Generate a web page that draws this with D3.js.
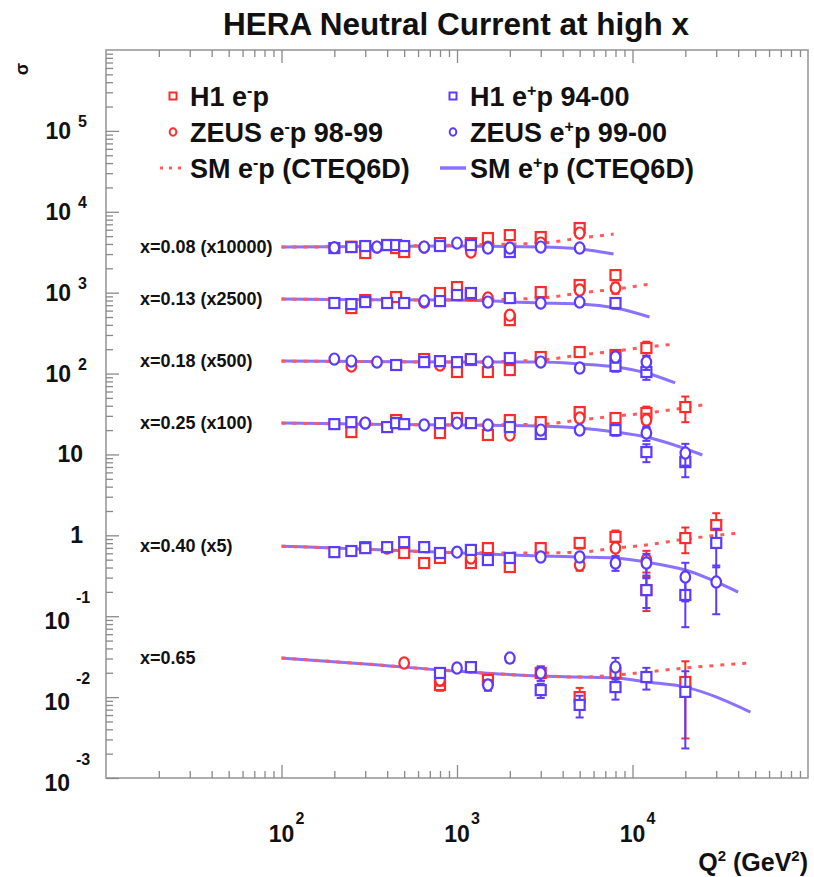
<!DOCTYPE html>
<html><head><meta charset="utf-8">
<script src="https://cdn.jsdelivr.net/npm/d3@7"></script>
<style>
body{margin:0;background:#fff}
svg{display:block}
text{font-family:"Liberation Sans",Arial,Helvetica,sans-serif;font-weight:bold;fill:#111}
</style>
</head><body><svg id="c" width="814" height="877"></svg>
<script>
// ---------------- data ----------------
const binLabels = ["x=0.08 (x10000)","x=0.13 (x2500)","x=0.18 (x500)","x=0.25 (x100)","x=0.40 (x5)","x=0.65"];
const binScale  = [10000, 2500, 500, 100, 5, 1];

// Standard Model curves (reduced cross section, unscaled) at Q2 knots
const smQ2 = [
  [100,300,1000,3000,5000,7800],
  [100,300,1000,3000,5000,8000,12500],
  [100,300,1000,3000,5000,8000,12000,17500],
  [100,300,1000,3000,5000,8000,12000,25000],
  [100,300,1000,3000,5000,8000,12000,20000,40000],
  [100,300,1000,3000,5000,8000,12000,20000,47000]
];
const smEm = [
  [0.366,0.372,0.388,0.410,0.473,0.530],
  [0.333,0.328,0.324,0.343,0.396,0.443,0.511],
  [0.285,0.281,0.277,0.294,0.339,0.379,0.425,0.463],
  [0.244,0.237,0.231,0.237,0.266,0.298,0.325,0.408],
  [0.147,0.135,0.122,0.121,0.124,0.139,0.152,0.180,0.213],
  [0.0304,0.0257,0.0209,0.0182,0.0177,0.0187,0.0204,0.0229,0.0264]
];
const smEp = [
  [0.366,0.372,0.377,0.366,0.346,0.300],
  [0.333,0.328,0.324,0.298,0.289,0.258,0.200],
  [0.285,0.281,0.277,0.277,0.262,0.241,0.203,0.153],
  [0.244,0.237,0.231,0.225,0.212,0.189,0.164,0.0984],
  [0.147,0.135,0.122,0.111,0.108,0.105,0.0935,0.0745,0.0398],
  [0.0304,0.0257,0.0209,0.0182,0.0177,0.0172,0.0154,0.0133,0.00654]
];

// measurements: [bin, Q2, sigma_r, relative error]
const h1Em = [
  [0,250,0.370,0.04],[0,300,0.309,0.04],[0,400,0.388,0.04],[0,450,0.356,0.04],[0,500,0.318,0.04],[0,800,0.410,0.05],[0,1200,0.410,0.05],[0,1500,0.473,0.06],[0,2000,0.515,0.07],[0,3000,0.487,0.08],[0,5000,0.629,0.10],
  [1,250,0.258,0.04],[1,300,0.324,0.04],[1,450,0.353,0.04],[1,800,0.396,0.05],[1,1000,0.469,0.05],[1,1200,0.374,0.05],[1,2000,0.183,0.08],[1,3000,0.407,0.08],[1,5000,0.497,0.10],[1,8000,0.660,0.14],
  [2,650,0.302,0.05],[2,1000,0.209,0.05],[2,1200,0.294,0.06],[2,1500,0.209,0.06],[2,2000,0.221,0.08],[2,3000,0.320,0.08],[2,5000,0.369,0.10],[2,8000,0.339,0.14],[2,12000,0.413,0.20],
  [3,250,0.189,0.04],[3,450,0.266,0.04],[3,800,0.184,0.05],[3,1000,0.282,0.05],[3,1500,0.174,0.06],[3,2000,0.266,0.08],[3,3000,0.251,0.08],[3,5000,0.334,0.10],[3,8000,0.282,0.15],[3,12000,0.325,0.20],[3,20000,0.385,0.35],
  [4,300,0.143,0.05],[4,500,0.121,0.05],[4,650,0.0909,0.08],[4,800,0.105,0.06],[4,1200,0.0909,0.08],[4,1500,0.139,0.08],[4,2000,0.0811,0.10],[4,3000,0.139,0.10],[4,5000,0.161,0.15],[4,8000,0.191,0.20],[4,12000,0.0421,0.45],[4,20000,0.185,0.35],[4,30000,0.268,0.40],
  [5,800,0.0141,0.15],[5,1500,0.0163,0.15],[5,3000,0.0199,0.20],[5,5000,0.0100,0.30],[5,8000,0.0199,0.30],[5,20000,0.0154,0.80]
];
const zeusEm = [
  [0,350,0.366,0.04],[0,650,0.366,0.04],[0,1200,0.318,0.05],[0,1500,0.366,0.05],[0,3000,0.410,0.07],[0,5000,0.545,0.10],
  [1,650,0.306,0.04],[1,1500,0.343,0.05],[1,2000,0.211,0.08],[1,5000,0.431,0.10],[1,8000,0.456,0.15],
  [2,250,0.248,0.04],[2,800,0.255,0.05],
  [3,300,0.244,0.04],[3,2000,0.174,0.08],[3,5000,0.282,0.10],[3,12000,0.266,0.20],
  [4,400,0.139,0.05],[4,1200,0.105,0.06],[4,5000,0.0859,0.15],[4,8000,0.139,0.20],[4,12000,0.099,0.30],
  [5,500,0.0264,0.10],[5,800,0.0163,0.15]
];
const h1Ep = [
  [0,200,0.356,0.04],[0,250,0.366,0.04],[0,300,0.377,0.04],[0,400,0.388,0.04],[0,450,0.388,0.04],[0,500,0.377,0.04],[0,800,0.377,0.05],[0,1200,0.388,0.05],[0,2000,0.318,0.07],
  [1,200,0.298,0.04],[1,250,0.289,0.04],[1,300,0.306,0.04],[1,400,0.298,0.04],[1,500,0.298,0.04],[1,800,0.315,0.05],[1,1000,0.374,0.05],[1,1200,0.396,0.05],[1,2000,0.343,0.07],[1,8000,0.298,0.15],
  [2,450,0.255,0.04],[2,650,0.277,0.04],[2,800,0.285,0.05],[2,1000,0.277,0.05],[2,1200,0.302,0.05],[2,2000,0.311,0.07],[2,8000,0.248,0.15],[2,12000,0.209,0.20],
  [3,200,0.237,0.04],[3,250,0.251,0.04],[3,400,0.218,0.04],[3,450,0.244,0.04],[3,500,0.237,0.04],[3,800,0.244,0.05],[3,1200,0.244,0.05],[3,2000,0.218,0.07],[3,3000,0.179,0.08],[3,8000,0.200,0.15],[3,12000,0.107,0.25],[3,20000,0.0805,0.35],
  [4,200,0.124,0.04],[4,250,0.128,0.04],[4,300,0.139,0.04],[4,400,0.143,0.04],[4,500,0.165,0.05],[4,650,0.143,0.05],[4,800,0.121,0.05],[4,1200,0.132,0.06],[4,1500,0.099,0.07],[4,2000,0.105,0.08],[4,12000,0.0421,0.40],[4,20000,0.0366,0.60],[4,30000,0.161,0.50],
  [5,800,0.0199,0.10],[5,1200,0.0235,0.10],[5,3000,0.0122,0.20],[5,5000,0.0080,0.30],[5,8000,0.0133,0.30],[5,12000,0.0177,0.30],[5,20000,0.0116,0.80]
];
const zeusEp = [
  [0,200,0.360,0.04],[0,350,0.366,0.04],[0,650,0.366,0.04],[0,1000,0.410,0.05],[0,1500,0.356,0.05],[0,2000,0.356,0.06],[0,3000,0.366,0.07],[0,5000,0.356,0.10],
  [1,650,0.315,0.04],[1,1500,0.306,0.05],[1,3000,0.298,0.07],[1,5000,0.306,0.10],
  [2,200,0.302,0.04],[2,250,0.285,0.04],[2,350,0.277,0.04],[2,1500,0.277,0.05],[2,3000,0.277,0.07],[2,5000,0.234,0.10],[2,8000,0.320,0.15],[2,12000,0.277,0.20],
  [3,300,0.244,0.04],[3,650,0.231,0.04],[3,1000,0.244,0.05],[3,1500,0.231,0.05],[3,3000,0.200,0.07],[3,5000,0.200,0.10],[3,12000,0.184,0.20],[3,20000,0.104,0.30],
  [4,1000,0.124,0.05],[4,3000,0.108,0.08],[4,5000,0.108,0.12],[4,8000,0.0909,0.20],[4,12000,0.0909,0.30],[4,20000,0.061,0.50],[4,30000,0.0529,0.60],
  [5,1000,0.0229,0.10],[5,1500,0.0141,0.15],[5,2000,0.0304,0.12],[5,3000,0.0199,0.20],[5,8000,0.0235,0.30]
];

const xTickValues = [100, 1000, 10000];
const xTickExp    = ["2", "3", "4"];
const yTickValues = [1e-3,1e-2,1e-1,1,10,100,1000,1e4,1e5];
const yTickBase   = ["10","10","10","1","10","10","10","10","10"];
const yTickExp    = ["-3","-2","-1","","","2","3","4","5"];

const titleText = "HERA Neutral Current at high x";

// ---------------- drawing ----------------
const RED = "#ff2a2a", BLUE = "#5a3cff";
const RED_LINE = "#ff5a5a", BLUE_LINE = "#8a72ff";
const L = 106, R = 808, T = 50, B = 778;
const svg = d3.select("#c");
const x = d3.scaleLog().domain([10, 1e5]).range([L, R]);
const y = d3.scaleLog().domain([1e-3, 1e6]).range([B, T]);

// title
svg.append("text").attr("x", 456).attr("y", 35).attr("text-anchor", "middle")
  .attr("font-size", 31.5).text(titleText);

// frame
svg.append("rect").attr("x", L).attr("y", T).attr("width", R - L).attr("height", B - T)
  .attr("fill", "none").attr("stroke", "#9a9a9a").attr("stroke-width", 1.6);

// minor tick positions
const xMinor = [], yMinor = [];
for (let e = 1; e < 5; e++) for (let m = 2; m <= 9; m++) xMinor.push(m * Math.pow(10, e));
for (let e = -3; e < 6; e++) for (let m = 2; m <= 9; m++) yMinor.push(m * Math.pow(10, e));

function styleAxis(g) {
  g.select(".domain").remove();
  g.selectAll("line").attr("stroke", "#8a8a8a").attr("stroke-width", 1.3);
}
svg.append("g").attr("transform", `translate(0,${B})`).call(d3.axisBottom(x).tickValues(xTickValues).tickSize(-13).tickFormat("")).call(styleAxis);
svg.append("g").attr("transform", `translate(0,${B})`).call(d3.axisBottom(x).tickValues(xMinor).tickSize(-7).tickFormat("")).call(styleAxis);
svg.append("g").attr("transform", `translate(0,${T})`).call(d3.axisTop(x).tickValues(xTickValues).tickSize(-13).tickFormat("")).call(styleAxis);
svg.append("g").attr("transform", `translate(0,${T})`).call(d3.axisTop(x).tickValues(xMinor).tickSize(-7).tickFormat("")).call(styleAxis);
svg.append("g").attr("transform", `translate(${L},0)`).call(d3.axisLeft(y).tickValues(yTickValues).tickSize(-13).tickFormat("")).call(styleAxis);
svg.append("g").attr("transform", `translate(${L},0)`).call(d3.axisLeft(y).tickValues(yMinor.filter(v => v < 1e6)).tickSize(-7).tickFormat("")).call(styleAxis);

// x tick labels
xTickValues.forEach((v, i) => {
  svg.append("text").attr("x", x(v)).attr("y", 842).attr("text-anchor", "middle").attr("font-size", 23).text("10");
  svg.append("text").attr("x", x(v) + 14).attr("y", 824).attr("font-size", 16).text(xTickExp[i]);
});
// axis title
const xt = svg.append("text").attr("x", 808).attr("y", 871).attr("text-anchor", "end").attr("font-size", 25);
xt.append("tspan").text("Q");
xt.append("tspan").attr("dy", -10).attr("font-size", 15).text("2");
xt.append("tspan").attr("dy", 10).text(" (GeV");
xt.append("tspan").attr("dy", -10).attr("font-size", 15).text("2");
xt.append("tspan").attr("dy", 10).text(")");

// y tick labels
yTickValues.forEach((v, i) => {
  const yy = y(v);
  const ex = yTickExp[i];
  if (ex === "") {
    svg.append("text").attr("x", 83).attr("y", yy + 8).attr("text-anchor", "end").attr("font-size", 23).text(yTickBase[i]);
  } else if (ex.startsWith("-")) {
    svg.append("text").attr("x", 70).attr("y", yy + 13).attr("text-anchor", "end").attr("font-size", 23).text(yTickBase[i]);
    svg.append("text").attr("x", 76).attr("y", yy - 13).attr("font-size", 16).text(ex);
  } else {
    svg.append("text").attr("x", 71).attr("y", yy + 8).attr("text-anchor", "end").attr("font-size", 23).text(yTickBase[i]);
    svg.append("text").attr("x", 78).attr("y", yy - 4).attr("font-size", 16).text(ex);
  }
});
// y axis title (sigma)
svg.append("text").attr("transform", "translate(28,69) rotate(-90)").attr("text-anchor", "middle")
  .attr("font-size", 18).attr("font-weight", "normal").text("σ");

// SM curves
const line = d3.line().x(d => x(d[0])).y(d => y(d[1])).curve(d3.curveMonotoneX);
const gCurves = svg.append("g");
smQ2.forEach((qs, b) => {
  const ep = qs.map((q, i) => [q, smEp[b][i] * binScale[b]]);
  gCurves.append("path").attr("d", line(ep)).attr("fill", "none")
    .attr("stroke", BLUE_LINE).attr("stroke-width", 3);
});
smQ2.forEach((qs, b) => {
  const em = qs.map((q, i) => [q, smEm[b][i] * binScale[b]]);
  gCurves.append("path").attr("d", line(em)).attr("fill", "none")
    .attr("stroke", RED_LINE).attr("stroke-width", 3).attr("stroke-dasharray", "4,7");
});

// bin labels
binLabels.forEach((lab, b) => {
  svg.append("text").attr("x", 140).attr("y", y(smEm[b][0] * binScale[b]) + 6)
    .attr("font-size", 18).attr("fill", "#222").text(lab);
});

// data points
function drawSet(data, color, shape) {
  const g = svg.append("g");
  data.forEach(d => {
    const [b, q, s, e] = d;
    const v = s * binScale[b];
    const px = x(q), py = y(v);
    const lo = y(v * (1 - e)), hi = y(v * (1 + e));
    g.append("line").attr("x1", px).attr("x2", px).attr("y1", hi).attr("y2", lo)
      .attr("stroke", color).attr("stroke-width", 2);
    [hi, lo].forEach(yy => g.append("line").attr("x1", px - 4).attr("x2", px + 4)
      .attr("y1", yy).attr("y2", yy).attr("stroke", color).attr("stroke-width", 2));
    if (shape === "sq") {
      g.append("rect").attr("x", px - 5).attr("y", py - 5).attr("width", 10).attr("height", 10)
        .attr("fill", "#fff").attr("stroke", color).attr("stroke-width", 2.2);
    } else {
      g.append("ellipse").attr("cx", px).attr("cy", py).attr("rx", 4.8).attr("ry", 5.6)
        .attr("fill", "#fff").attr("stroke", color).attr("stroke-width", 2.2);
    }
  });
}
drawSet(h1Em, RED, "sq");
drawSet(zeusEm, RED, "circ");
drawSet(h1Ep, BLUE, "sq");
drawSet(zeusEp, BLUE, "circ");

// legend
const legendRows = [
  {x: 173, y: 96, kind: "sq", color: RED, parts: [["H1 e",0],["-",1],["p",0]]},
  {x: 453, y: 96, kind: "sq", color: BLUE, parts: [["H1 e",0],["+",1],["p 94-00",0]]},
  {x: 173, y: 132, kind: "circ", color: RED, parts: [["ZEUS e",0],["-",1],["p 98-99",0]]},
  {x: 453, y: 132, kind: "circ", color: BLUE, parts: [["ZEUS e",0],["+",1],["p 99-00",0]]},
  {x: 173, y: 168, kind: "dot", color: RED_LINE, parts: [["SM e",0],["-",1],["p (CTEQ6D)",0]]},
  {x: 453, y: 168, kind: "line", color: BLUE_LINE, parts: [["SM e",0],["+",1],["p (CTEQ6D)",0]]}
];
legendRows.forEach(r => {
  if (r.kind === "sq") {
    svg.append("rect").attr("x", r.x - 3.5).attr("y", r.y - 3.5).attr("width", 7).attr("height", 7)
      .attr("fill", "#fff").attr("stroke", r.color).attr("stroke-width", 2);
  } else if (r.kind === "circ") {
    svg.append("ellipse").attr("cx", r.x).attr("cy", r.y).attr("rx", 3.3).attr("ry", 3.8)
      .attr("fill", "#fff").attr("stroke", r.color).attr("stroke-width", 2);
  } else if (r.kind === "dot") {
    svg.append("line").attr("x1", r.x - 13).attr("x2", r.x + 13).attr("y1", r.y).attr("y2", r.y)
      .attr("stroke", r.color).attr("stroke-width", 3).attr("stroke-dasharray", "3,6");
  } else {
    svg.append("line").attr("x1", r.x - 13).attr("x2", r.x + 13).attr("y1", r.y).attr("y2", r.y)
      .attr("stroke", r.color).attr("stroke-width", 3.5);
  }
  const t = svg.append("text").attr("x", r.x + 17).attr("y", r.y + 10).attr("font-size", 27);
  let sup = false;
  r.parts.forEach(([s, isSup]) => {
    const ts = t.append("tspan").text(s);
    if (isSup && !sup) { ts.attr("dy", -10).attr("font-size", 16); sup = true; }
    else if (!isSup && sup) { ts.attr("dy", 10); sup = false; }
  });
});
</script>
</body></html>
